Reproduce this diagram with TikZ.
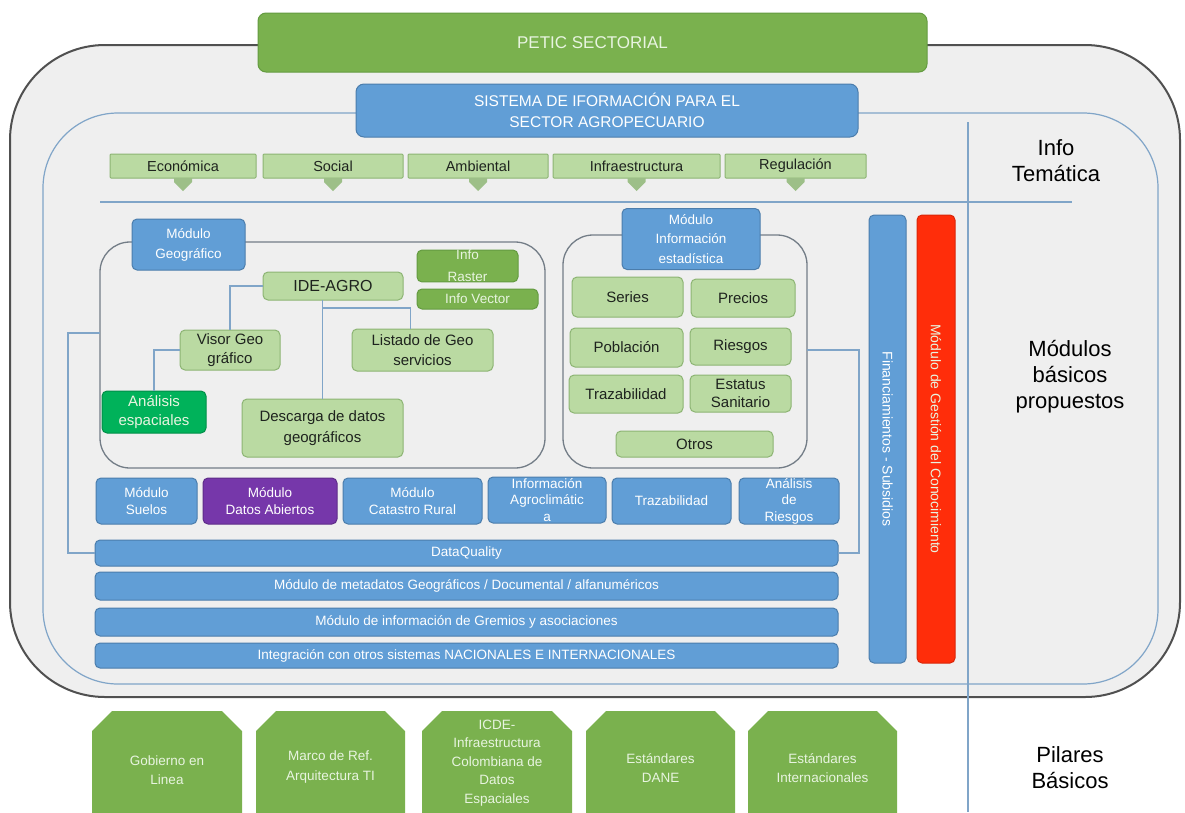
\documentclass[tikz,border=0pt]{standalone}
\usepackage{fontspec}
\setmainfont{Liberation Sans}
\usetikzlibrary{calc}
\definecolor{gDark}{RGB}{122,177,78}
\definecolor{gEdge}{RGB}{100,155,65}
\definecolor{bMain}{RGB}{97,158,214}
\definecolor{bEdge}{RGB}{75,125,172}
\definecolor{gLight}{RGB}{186,218,162}
\definecolor{gLightEdge}{RGB}{140,180,115}
\definecolor{purp}{RGB}{118,55,170}
\definecolor{gBright}{RGB}{0,178,90}
\definecolor{redM}{RGB}{255,45,10}
\definecolor{frameFill}{RGB}{239,239,239}
\definecolor{frameEdge}{RGB}{80,80,80}
\definecolor{lineB}{RGB}{128,165,200}
\definecolor{contEdge}{RGB}{115,125,135}
\definecolor{txtDark}{RGB}{30,35,30}
\definecolor{txtPale}{RGB}{232,244,224}
\newcommand\fsz[2]{\fontsize{#1}{#2}\selectfont}
\newcommand\pilar[2]{\fill[gDark] (#1,840) -- (#1,731) -- (#1+20,711) -- (#2-20,711) -- (#2,731) -- (#2,840) -- cycle;}
\begin{document}
\begin{tikzpicture}[x=1pt,y=-1pt,
  box/.style={rectangle, inner sep=0pt, outer sep=0pt, align=center, rounded corners=5pt, line width=1pt},
  bluebox/.style={box, fill=bMain, draw=bEdge, text=white},
  greenbox/.style={box, fill=gDark, draw=gEdge, text=txtPale},
  lightbox/.style={box, fill=gLight, draw=gLightEdge, text=txtDark},
  tabbox/.style={lightbox, rounded corners=1pt, minimum height=24pt, font=\fsz{14.5}{16}},
  statbox/.style={lightbox, font=\fsz{15}{17}},
  modbox/.style={bluebox, minimum height=46pt, font=\fsz{13.5}{16.5}},
  barbox/.style={bluebox, minimum width=743pt, font=\fsz{13.5}{15}},
  conn/.style={draw=lineB, line width=1.2pt},
  container/.style={box, draw=contEdge, line width=1.3pt, rounded corners=30pt},
  sidelabel/.style={align=center, text=black, font=\fsz{22}{26}},
  pillartxt/.style={align=center, text=txtPale, font=\fsz{13.5}{19.5}},
  tabarrow/.style={fill=gLightEdge!85!white}
]
\useasboundingbox (0,0) rectangle (1185,812);
\clip (0,0) rectangle (1185,812);
\fill[white] (0,0) rectangle (1185,812);

% frames
\node[box, fill=frameFill, draw=frameEdge, line width=2pt, rounded corners=95pt,
      minimum width=1170pt, minimum height=652pt] (outer) at (595,371) {};
\node[box, draw=lineB, line width=1.2pt, rounded corners=75pt,
      minimum width=1115pt, minimum height=571pt] (inner) at (600.5,398.5) {};

% dividers
\coordinate (vtop) at (968,122);
\coordinate (vbot) at (968,812);
\draw[conn] (vtop) -- (vbot);
\coordinate (hl) at (100,202);
\coordinate (hr) at (1072,202);
\draw[conn] (hl) -- (hr);

% top boxes
\node[greenbox, rounded corners=8pt, minimum width=669pt, minimum height=59pt,
      font=\fsz{17}{20}] (petic) at (592.5,42.5) {PETIC SECTORIAL};
\node[bluebox, rounded corners=8pt, minimum width=502pt, minimum height=53pt,
      font=\fsz{15.5}{21}] (sis) at (607,110.5) {SISTEMA DE IFORMACIÓN PARA EL\\SECTOR AGROPECUARIO};

% thematic tabs
\node[tabbox, minimum width=146pt] (eco) at (183,166) {Económica};
\node[tabbox, minimum width=140pt] (soc) at (333,166) {Social};
\node[tabbox, minimum width=140pt] (amb) at (478,166) {Ambiental};
\node[tabbox, minimum width=167pt] (inf) at (636.5,166) {Infraestructura};
\node[tabbox, minimum width=141pt] (reg) at (795.5,166) {Regulación};
\foreach \t in {eco,soc,amb,inf,reg}{
  \fill[tabarrow] ($(\t.south)+(-9,0)$) -- ++(18,0) -- ++(0,4) -- ++(-9,9) -- ++(-9,-9) -- cycle;
}

% geographic module
\node[container, minimum width=445pt, minimum height=226pt] (geo) at (322.5,355) {};
\node[bluebox, minimum width=113pt, minimum height=51pt, font=\fsz{13.5}{20}] (geoh) at (188.5,244.5) {Módulo\\Geográfico};
\node[greenbox, minimum width=101pt, minimum height=31pt, font=\fsz{13.5}{22}] (raster) at (467.5,266) {Info\\Raster};
\node[greenbox, minimum width=121pt, minimum height=20pt, font=\fsz{13.5}{15}] (vector) at (477.5,299) {Info Vector};
\node[lightbox, minimum width=140pt, minimum height=28pt, font=\fsz{16}{18}] (ide) at (333,286) {IDE-AGRO};
\node[lightbox, minimum width=100pt, minimum height=40pt, font=\fsz{15}{19.5}] (visor) at (230,350) {Visor Geo\\gráfico};
\node[lightbox, minimum width=141pt, minimum height=42pt, font=\fsz{15}{19.5}] (list) at (422.5,350) {Listado de Geo\\servicios};
\node[box, fill=gBright, draw=gBright!80!black, text=txtPale, minimum width=104pt, minimum height=42pt, font=\fsz{15}{19.5}] (ana) at (154,412) {Análisis\\espaciales};
\node[lightbox, minimum width=161pt, minimum height=58pt, font=\fsz{15}{21}] (desc) at (322.5,428) {Descarga de datos\\geográficos};

\draw[conn] (ide.west) -| (visor.north);
\draw[conn] (visor.west) -| (ana.north);
\draw[conn] (desc.north |- ide.south) -- (desc.north);
\coordinate (br) at (323,308);
\draw[conn] (br) -| ($(list.north)+(-12,0)$);

% statistical module
\node[container, minimum width=244pt, minimum height=233pt] (stat) at (685,351.5) {};
\node[bluebox, minimum width=138pt, minimum height=61pt, font=\fsz{13.5}{19.5}] (stath) at (691,239) {Módulo\\Información\\estadística};
\node[statbox, minimum width=111pt, minimum height=40pt] (series) at (627.5,297) {Series};
\node[statbox, minimum width=104pt, minimum height=38pt] (precios) at (743,298) {Precios};
\node[statbox, minimum width=113pt, minimum height=39pt] (pobl) at (626.5,347.5) {Población};
\node[statbox, minimum width=101pt, minimum height=37pt] (ries) at (740.5,346.5) {Riesgos};
\node[statbox, minimum width=114pt, minimum height=38pt] (traz) at (626,394) {Trazabilidad};
\node[statbox, minimum width=101pt, minimum height=37pt, font=\fsz{15}{18}] (estat) at (740.5,393.5) {Estatus\\Sanitario};
\node[statbox, minimum width=157pt, minimum height=26pt] (otros) at (694.5,444) {Otros};

% module row
\node[modbox, minimum width=101pt] (suelos) at (146.5,501) {Módulo\\Suelos};
\node[modbox, fill=purp, draw=purp!80!black, minimum width=134pt] (abiertos) at (270,501) {Módulo\\Datos Abiertos};
\node[modbox, minimum width=139pt] (catastro) at (412.5,501) {Módulo\\Catastro Rural};
\node[modbox, minimum width=118pt] (agro) at (547,500) {Información\\Agroclimátic\\a};
\node[modbox, minimum width=119pt] (trazm) at (671.5,501) {Trazabilidad};
\node[modbox, minimum width=100pt] (riesm) at (789,501) {Análisis\\de\\Riesgos};

% horizontal bars
\node[barbox, minimum height=26pt] (dq) at (466.5,553) {DataQuality};
\node[barbox, minimum height=28pt] (meta) at (466.5,586) {Módulo de metadatos Geográficos / Documental / alfanuméricos};
\node[barbox, minimum height=28pt] (grem) at (466.5,622) {Módulo de información de Gremios y asociaciones};
\node[barbox, minimum height=25pt] (integ) at (466.5,655.5) {Integración con otros sistemas NACIONALES E INTERNACIONALES};

% connectors to DataQuality
\coordinate (gL) at (100,333);
\coordinate (gLx) at (68,333);
\draw[conn] (gL) -- (gLx) |- (dq.west);
\coordinate (sR) at (807,350);
\coordinate (sRx) at (859,350);
\draw[conn] (sR) -- (sRx) |- (dq.east);

% vertical bars
\node[bluebox, rotate=-90, minimum width=448pt, minimum height=37pt, font=\fsz{14}{16}] (fin) at (887.5,439) {Financiamientos - Subsidios};
\node[box, fill=redM, draw=redM!85!black, text=txtPale, rotate=-90, minimum width=448pt, minimum height=38pt, font=\fsz{14}{16}] (gest) at (936,439) {Módulo de Gestión del Conocimiento};

% side labels
\node[sidelabel] (lblinfo) at (1056,161) {Info\\Temática};
\node[sidelabel] (lblmod) at (1070,377) {Módulos\\básicos\\propuestos};
\node[sidelabel] (lblpil) at (1070,768) {Pilares\\Básicos};

% pillars
\pilar{92}{242}
\pilar{256}{405}
\pilar{422}{572}
\pilar{586}{735}
\pilar{748}{897}
\node[pillartxt] (gob) at (167,770) {Gobierno en\\Linea};
\node[pillartxt] (marco) at (330.5,767) {Marco de Ref.\\Arquitectura TI};
\node[pillartxt, font=\fsz{13.5}{18.5}] (icde) at (497,763) {ICDE-\\Infraestructura\\Colombiana de\\Datos\\Espaciales};
\node[pillartxt] (dane) at (660.5,768) {Estándares\\DANE};
\node[pillartxt] (intl) at (822.5,768) {Estándares\\Internacionales};
\end{tikzpicture}
\end{document}
